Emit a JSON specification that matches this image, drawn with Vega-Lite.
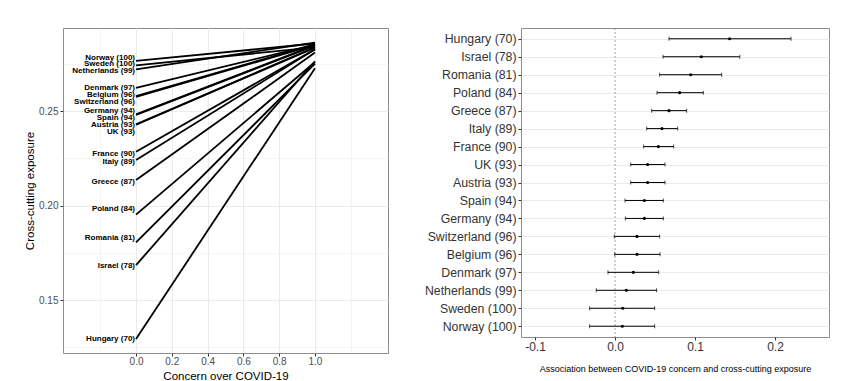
{
  "$schema": "https://vega.github.io/schema/vega-lite/v6.json",
  "background": "white",
  "padding": {"left": 24, "top": 23, "right": 0, "bottom": 0},
  "spacing": 34,
  "config": {
    "font": "Liberation Sans",
    "view": {"stroke": "#8c8c8c", "strokeWidth": 1},
    "axis": {"domain": false, "labelFlush": false, "labelOverlap": false, "labelBound": false, "gridColor": "#ebebeb", "tickColor": "#333333", "tickSize": 3, "titleFontWeight": "normal", "titleColor": "black", "labelColor": "#4d4d4d", "labelFont": "Liberation Sans", "titleFont": "Liberation Sans"}
  },
  "hconcat": [
    {
      "width": 325,
      "height": 325,
      "data": {"values": [
        {"label": "Norway (100)", "concern_min": 0, "concern_max": 1, "start": 0.2766, "end": 0.2858, "label_y": 0.2783},
        {"label": "Sweden (100)", "concern_min": 0, "concern_max": 1, "start": 0.2742, "end": 0.2838, "label_y": 0.2748},
        {"label": "Netherlands (99)", "concern_min": 0, "concern_max": 1, "start": 0.2721, "end": 0.2863, "label_y": 0.2711},
        {"label": "Denmark (97)", "concern_min": 0, "concern_max": 1, "start": 0.2623, "end": 0.2852, "label_y": 0.2622},
        {"label": "Belgium (96)", "concern_min": 0, "concern_max": 1, "start": 0.2579, "end": 0.2854, "label_y": 0.2584},
        {"label": "Switzerland (96)", "concern_min": 0, "concern_max": 1, "start": 0.2575, "end": 0.2850, "label_y": 0.2547},
        {"label": "Germany (94)", "concern_min": 0, "concern_max": 1, "start": 0.2483, "end": 0.2850, "label_y": 0.2502},
        {"label": "Spain (94)", "concern_min": 0, "concern_max": 1, "start": 0.2480, "end": 0.2847, "label_y": 0.2466},
        {"label": "Austria (93)", "concern_min": 0, "concern_max": 1, "start": 0.2430, "end": 0.2838, "label_y": 0.2428},
        {"label": "UK (93)", "concern_min": 0, "concern_max": 1, "start": 0.2428, "end": 0.2836, "label_y": 0.2389},
        {"label": "France (90)", "concern_min": 0, "concern_max": 1, "start": 0.2285, "end": 0.2827, "label_y": 0.2274},
        {"label": "Italy (89)", "concern_min": 0, "concern_max": 1, "start": 0.2241, "end": 0.2828, "label_y": 0.2229},
        {"label": "Greece (87)", "concern_min": 0, "concern_max": 1, "start": 0.2135, "end": 0.2810, "label_y": 0.2126},
        {"label": "Poland (84)", "concern_min": 0, "concern_max": 1, "start": 0.1952, "end": 0.2760, "label_y": 0.1980},
        {"label": "Romania (81)", "concern_min": 0, "concern_max": 1, "start": 0.1805, "end": 0.2751, "label_y": 0.1830},
        {"label": "Israel (78)", "concern_min": 0, "concern_max": 1, "start": 0.1685, "end": 0.2764, "label_y": 0.1682},
        {"label": "Hungary (70)", "concern_min": 0, "concern_max": 1, "start": 0.1294, "end": 0.2727, "label_y": 0.1292}
      ]},
      "layer": [
        {
          "mark": {"type": "rule", "color": "black", "strokeWidth": 1.8},
          "encoding": {
            "x": {"field": "concern_min", "type": "quantitative",
              "scale": {"domain": [-0.408, 1.408], "nice": false, "zero": false},
              "title": "Concern over COVID-19",
              "axis": {
                "values": [-0.2, -0.1, 0, 0.1, 0.2, 0.3, 0.4, 0.5, 0.6, 0.7, 0.8, 0.9, 1, 1.1, 1.2],
                "labelExpr": "(round(datum.value*10) % 2 == 0 && datum.value > -0.05 && datum.value < 1.05) ? format(datum.value, '.1f') : ''",
                "tickOpacity": {"condition": {"test": "round(datum.value*10) % 2 == 0 && datum.value > -0.05 && datum.value < 1.05", "value": 1}, "value": 0},
                "gridWidth": {"condition": {"test": "round(datum.value*10) % 2 == 0 && datum.value > -0.05 && datum.value < 1.05", "value": 1}, "value": 0.5},
                "labelFontSize": 10, "labelPadding": 0, "titleFontSize": 11.5, "titlePadding": 4
              }
            },
            "x2": {"field": "concern_max"},
            "y": {"field": "start", "type": "quantitative",
              "scale": {"domain": [0.122, 0.294], "nice": false, "zero": false},
              "title": "Cross-cutting exposure",
              "axis": {
                "values": [0.125, 0.15, 0.175, 0.2, 0.225, 0.25, 0.275],
                "labelExpr": "round(datum.value*1000) % 50 == 0 ? format(datum.value, '.2f') : ''",
                "tickOpacity": {"condition": {"test": "round(datum.value*1000) % 50 == 0", "value": 1}, "value": 0},
                "gridWidth": {"condition": {"test": "round(datum.value*1000) % 50 == 0", "value": 1}, "value": 0.5},
                "labelFontSize": 10, "labelPadding": 2, "titleFontSize": 11.5, "titlePadding": 3
              }
            },
            "y2": {"field": "end"}
          }
        },
        {
          "mark": {"type": "text", "align": "right", "baseline": "middle", "dx": -1, "fontWeight": "bold", "fontSize": 8, "font": "Liberation Sans", "color": "black"},
          "encoding": {
            "x": {"field": "concern_min", "type": "quantitative", "title": "Concern over COVID-19"},
            "y": {"field": "label_y", "type": "quantitative", "title": "Cross-cutting exposure"},
            "text": {"field": "label"}
          }
        }
      ]
    },
    {
      "width": 308,
      "height": 309,
      "title": {"text": " ", "fontSize": 1, "offset": 3},
      "data": {"values": [
        {"country": "Hungary (70)", "est": 0.1433, "lo": 0.0675, "hi": 0.2200},
        {"country": "Israel (78)", "est": 0.1079, "lo": 0.0600, "hi": 0.1560},
        {"country": "Romania (81)", "est": 0.0946, "lo": 0.0558, "hi": 0.1333},
        {"country": "Poland (84)", "est": 0.0808, "lo": 0.0525, "hi": 0.1104},
        {"country": "Greece (87)", "est": 0.0675, "lo": 0.0458, "hi": 0.0896},
        {"country": "Italy (89)", "est": 0.0587, "lo": 0.0396, "hi": 0.0783},
        {"country": "France (90)", "est": 0.0542, "lo": 0.0358, "hi": 0.0733},
        {"country": "UK (93)", "est": 0.0408, "lo": 0.0196, "hi": 0.0625},
        {"country": "Austria (93)", "est": 0.0408, "lo": 0.0196, "hi": 0.0625},
        {"country": "Spain (94)", "est": 0.0367, "lo": 0.0125, "hi": 0.0604},
        {"country": "Germany (94)", "est": 0.0367, "lo": 0.0129, "hi": 0.0604},
        {"country": "Switzerland (96)", "est": 0.0275, "lo": -0.0009, "hi": 0.0558},
        {"country": "Belgium (96)", "est": 0.0275, "lo": -0.0004, "hi": 0.0563},
        {"country": "Denmark (97)", "est": 0.0229, "lo": -0.0088, "hi": 0.0546},
        {"country": "Netherlands (99)", "est": 0.0142, "lo": -0.0234, "hi": 0.0520},
        {"country": "Sweden (100)", "est": 0.0096, "lo": -0.0317, "hi": 0.0496},
        {"country": "Norway (100)", "est": 0.0092, "lo": -0.0317, "hi": 0.0496}
      ]},
      "encoding": {
        "y": {"field": "country", "type": "nominal", "sort": null, "title": null,
          "scale": {"type": "point", "padding": 0.6},
          "axis": {"labelFontSize": 12.3, "labelColor": "#333333", "labelPadding": 2, "tickSize": 3, "grid": true, "gridWidth": 1}
        }
      },
      "layer": [
        {
          "data": {"values": [{}]},
          "mark": {"type": "rule", "color": "#8c8c8c", "strokeDash": [2, 2], "strokeWidth": 0.8},
          "encoding": {"x": {"datum": 0, "type": "quantitative"}, "y": null}
        },
        {
          "mark": {"type": "rule", "color": "black", "strokeWidth": 1},
          "encoding": {
            "x": {"field": "lo", "type": "quantitative",
              "scale": {"domain": [-0.1175, 0.2675], "nice": false, "zero": false},
              "title": "Association between COVID-19 concern and cross-cutting exposure",
              "axis": {
                "values": [-0.1, -0.05, 0, 0.05, 0.1, 0.15, 0.2, 0.25],
                "labelExpr": "round(datum.value*100) % 10 == 0 ? (datum.value < 0 ? '-' + format(-datum.value, '.1f') : format(datum.value, '.1f')) : ''",
                "tickOpacity": {"condition": {"test": "round(datum.value*100) % 10 == 0", "value": 1}, "value": 0},
                "gridWidth": {"condition": {"test": "round(datum.value*100) % 10 == 0", "value": 1}, "value": 0.5},
                "labelFontSize": 12, "labelColor": "#333333", "labelPadding": 1, "titleFontSize": 9, "titlePadding": 12
              }
            },
            "x2": {"field": "hi"}
          }
        },
        {
          "mark": {"type": "tick", "color": "black", "size": 4, "thickness": 1, "orient": "vertical"},
          "encoding": {"x": {"field": "lo", "type": "quantitative"}}
        },
        {
          "mark": {"type": "tick", "color": "black", "size": 4, "thickness": 1, "orient": "vertical"},
          "encoding": {"x": {"field": "hi", "type": "quantitative"}}
        },
        {
          "mark": {"type": "circle", "color": "black", "size": 10, "opacity": 1},
          "encoding": {"x": {"field": "est", "type": "quantitative"}}
        }
      ]
    }
  ]
}
